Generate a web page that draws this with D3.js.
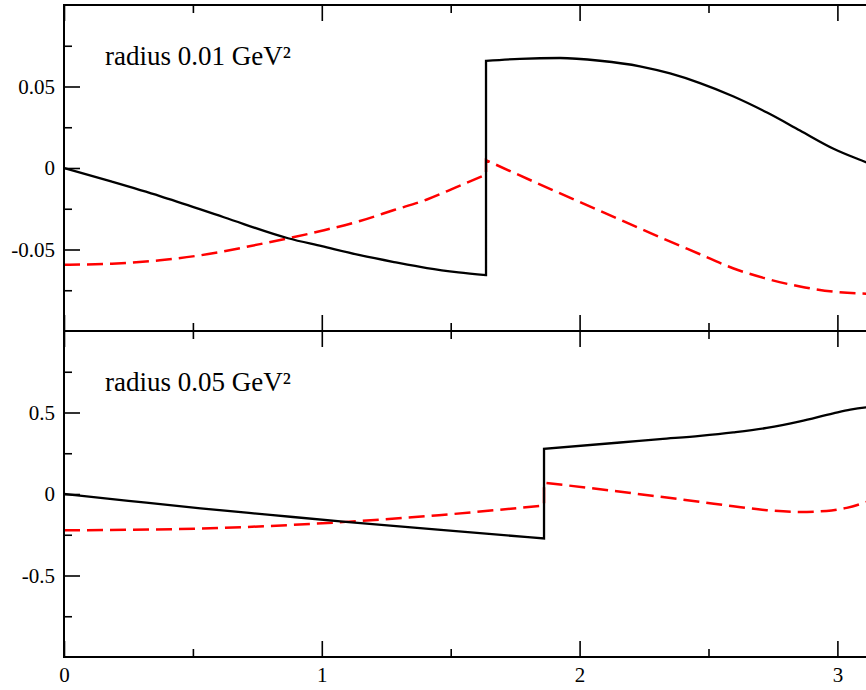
<!DOCTYPE html>
<html>
<head>
<meta charset="utf-8">
<script src="https://cdn.jsdelivr.net/npm/d3@7"></script>
<style>
  body { margin: 0; background: #fff; }
  svg text { font-family: "Liberation Serif", "Times New Roman", serif; }
</style>
</head>
<body>
<div id="chart"></div>
<script>
const MARGIN = {TOP: 5, LEFT: 64};
const PANEL_H = 326;
const X_MAX = Math.PI;

// x ticks
const xMajor = [0, 1, 2, 3];
const xMinor = [0.5, 1.5, 2.5];

// top panel (radius 0.01)
const topLabel = 'radius 0.01 GeV\u00b2';
const topMajor = [-0.05, 0, 0.05];
const topMinor = [-0.075, -0.025, 0.025, 0.075];
const topBlackLeft = [[0, 0], [0.186, -0.0084], [0.372, -0.0172], [0.62, -0.0302], [0.869, -0.0431],
  [1.0, -0.0480], [1.148, -0.0535], [1.28, -0.0577], [1.408, -0.0614], [1.53, -0.0640], [1.637, -0.0657]];
const topBlackRight = [[1.637, 0.0657], [1.769, 0.0670], [1.924, 0.0675], [2.079, 0.0658], [2.234, 0.0624],
  [2.351, 0.0580], [2.467, 0.0521], [2.595, 0.0440], [2.727, 0.0340], [2.855, 0.0230], [2.983, 0.0120],
  [3.111, 0.0035], [3.1416, 0.0015]];
const topRedLeft = [[0, -0.0594], [0.186, -0.0587], [0.372, -0.0566], [0.56, -0.0528], [0.76, -0.0467],
  [1.0, -0.0385], [1.148, -0.0325], [1.28, -0.0258], [1.408, -0.0193], [1.52, -0.0119], [1.637, -0.0040]];
const topRedRight = [[1.637, 0.0048], [1.916, -0.0150], [2.079, -0.0263], [2.273, -0.0398], [2.467, -0.0529],
  [2.595, -0.0615], [2.727, -0.0680], [2.855, -0.0727], [2.983, -0.0758], [3.095, -0.0770], [3.1416, -0.0772]];

// bottom panel (radius 0.05)
const botLabel = 'radius 0.05 GeV\u00b2';
const botMajor = [-0.5, 0, 0.5];
const botMinor = [-0.75, -0.25, 0.25, 0.75];
const botBlackLeft = [[0, 0], [0.25, -0.042], [0.53, -0.088], [0.8, -0.128], [1.093, -0.171],
  [1.45, -0.219], [1.862, -0.273]];
const botBlackRight = [[1.862, 0.277], [2.157, 0.316], [2.312, 0.337], [2.467, 0.357], [2.596, 0.378],
  [2.726, 0.405], [2.855, 0.445], [2.984, 0.495], [3.05, 0.518], [3.111, 0.531], [3.1416, 0.535]];
const botRedLeft = [[0, -0.223], [0.519, -0.212], [0.786, -0.197], [1.093, -0.171], [1.454, -0.130],
  [1.862, -0.070]];
const botRedRight = [[1.862, 0.069], [2.144, 0.017], [2.273, -0.009], [2.467, -0.048], [2.596, -0.075],
  [2.726, -0.099], [2.855, -0.110], [2.958, -0.104], [3.036, -0.085], [3.111, -0.050], [3.1416, -0.033]];

const panels = [
  {label: topLabel, domain: [-0.1, 0.1], major: topMajor, minor: topMinor,
   black: [topBlackLeft, topBlackRight], red: [topRedLeft, topRedRight]},
  {label: botLabel, domain: [-1, 1], major: botMajor, minor: botMinor,
   black: [botBlackLeft, botBlackRight], red: [botRedLeft, botRedRight]}
];

const FONT = '"Liberation Serif", "Times New Roman", serif';

const svg = d3.select('#chart')
  .append('svg')
    .attr('width', 866)
    .attr('height', 690);

const x = d3.scaleLinear().domain([0, X_MAX]).range([0, X_MAX * 257.8]);
const W = x(X_MAX);

panels.forEach((p, i) => {
  const g = svg.append('g')
    .attr('transform', `translate(${MARGIN.LEFT}, ${MARGIN.TOP + i * PANEL_H})`);

  const y = d3.scaleLinear().domain(p.domain).range([PANEL_H, 0]);

  const line = d3.line()
    .x(d => x(d[0]))
    .y(d => y(d[1]))
    .curve(d3.curveMonotoneX);

  // join the two branches with a vertical jump
  const jumpPath = parts => line(parts[0]) + line(parts[1]).replace(/^M/, 'L');

  g.append('path')
    .attr('d', jumpPath(p.red))
    .attr('fill', 'none')
    .attr('stroke', '#ff0000')
    .attr('stroke-width', 2.5)
    .attr('stroke-dasharray', '16,7');

  g.append('path')
    .attr('d', jumpPath(p.black))
    .attr('fill', 'none')
    .attr('stroke', '#000')
    .attr('stroke-width', 2.3);

  // axes: ticks point inward
  const styleAxis = sel => {
    sel.attr('font-family', FONT);
    sel.select('.domain').remove();
    sel.selectAll('line').attr('stroke', '#000').attr('stroke-width', 1.6);
    sel.selectAll('text').attr('font-size', 21).attr('fill', '#000');
  };

  g.append('g')
    .call(d3.axisLeft(y).tickValues(p.major).tickSize(-16).tickPadding(9).tickFormat(d => String(d)))
    .call(styleAxis);
  g.append('g')
    .call(d3.axisLeft(y).tickValues(p.minor).tickSize(-8).tickFormat(''))
    .call(styleAxis);

  g.append('g')
    .call(d3.axisTop(x).tickValues(xMajor).tickSize(-16).tickFormat(''))
    .call(styleAxis);
  g.append('g')
    .call(d3.axisTop(x).tickValues(xMinor).tickSize(-8).tickFormat(''))
    .call(styleAxis);

  const isLast = i === panels.length - 1;
  g.append('g')
    .attr('transform', `translate(0, ${PANEL_H})`)
    .call(d3.axisBottom(x).tickValues(xMajor).tickSize(-16).tickPadding(10)
      .tickFormat(d => isLast ? String(d) : ''))
    .call(styleAxis);
  g.append('g')
    .attr('transform', `translate(0, ${PANEL_H})`)
    .call(d3.axisBottom(x).tickValues(xMinor).tickSize(-8).tickFormat(''))
    .call(styleAxis);

  // frame
  g.append('rect')
    .attr('x', 0)
    .attr('y', 0)
    .attr('width', W)
    .attr('height', PANEL_H)
    .attr('fill', 'none')
    .attr('stroke', '#000')
    .attr('stroke-width', 2);

  g.append('text')
    .attr('x', 41)
    .attr('y', 60)
    .attr('font-family', FONT)
    .attr('font-size', 27)
    .text(p.label);
});
</script>
</body>
</html>
